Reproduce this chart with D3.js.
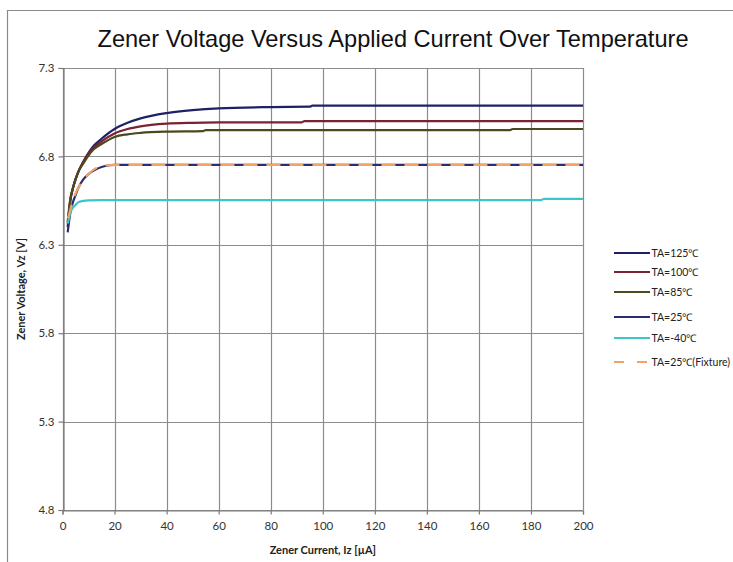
<!DOCTYPE html>
<html>
<head>
<meta charset="utf-8">
<script src="https://cdn.jsdelivr.net/npm/d3@7"></script>
<style>
  html, body { margin: 0; padding: 0; background: #fff; }
  svg { display: block; }
</style>
</head>
<body>
<svg id="chart" width="733" height="562"></svg>
<script>
// Zener voltage (V) vs. applied current (µA) at several ambient temperatures
const seriesNames = ["TA=125℃", "TA=100℃", "TA=85℃", "TA=25℃", "TA=-40℃", "TA=25℃(Fixture)"];

const current125 = [2, 2.5, 3, 4, 5, 6, 8, 10, 12, 15, 20, 25, 30, 40, 50, 60, 80, 95, 96, 200];
const volts125   = [6.40, 6.48, 6.55, 6.62, 6.67, 6.71, 6.77, 6.82, 6.86, 6.90, 6.955, 6.99, 7.015, 7.045, 7.062, 7.072, 7.079, 7.081, 7.087, 7.087];

const current100 = [2, 2.5, 3, 4, 5, 6, 8, 10, 12, 15, 20, 25, 30, 40, 50, 60, 80, 92, 93, 200];
const volts100   = [6.42, 6.49, 6.55, 6.62, 6.67, 6.71, 6.77, 6.815, 6.85, 6.885, 6.93, 6.955, 6.97, 6.985, 6.99, 6.992, 6.993, 6.993, 7.0, 7.0];

const current85  = [2, 2.5, 3, 4, 5, 6, 8, 10, 12, 15, 20, 25, 30, 40, 54, 55, 172, 173, 200];
const volts85    = [6.43, 6.50, 6.56, 6.62, 6.67, 6.71, 6.76, 6.805, 6.84, 6.87, 6.91, 6.925, 6.933, 6.94, 6.943, 6.949, 6.949, 6.955, 6.955];

const current25  = [2, 2.5, 3, 4, 5, 6, 8, 10, 12, 15, 18, 20, 200];
const volts25    = [6.37, 6.43, 6.48, 6.54, 6.58, 6.62, 6.67, 6.70, 6.72, 6.74, 6.75, 6.752, 6.752];

const currentM40 = [2, 2.5, 3, 4, 5, 6, 8, 10, 15, 184, 185, 200];
const voltsM40   = [6.42, 6.45, 6.48, 6.51, 6.525, 6.54, 6.548, 6.551, 6.553, 6.553, 6.56, 6.56];

const currentFix = [2, 2.5, 3, 4, 5, 6, 8, 10, 12, 15, 20, 200];
const voltsFix   = [6.45, 6.47, 6.50, 6.55, 6.59, 6.62, 6.67, 6.70, 6.725, 6.745, 6.752, 6.752];

const xTicks = [0, 20, 40, 60, 80, 100, 120, 140, 160, 180, 200];
const yTicks = [4.8, 5.3, 5.8, 6.3, 6.8, 7.3];

const seriesCurrents = [current125, current100, current85, current25, currentM40, currentFix];
const seriesVolts    = [volts125, volts100, volts85, volts25, voltsM40, voltsFix];
const seriesColors   = ["#1f2066", "#7a2232", "#4a4a1e", "#2a2d70", "#3cc6c6", "#f2a466"];
const seriesDash     = [null, null, null, null, null, "14,9"];

const svg = d3.select("#chart");
const plot = { left: 62.5, right: 583, top: 68, bottom: 510 };

const x = d3.scaleLinear().domain([0, 200]).range([plot.left, plot.right]);
const y = d3.scaleLinear().domain([4.8, 7.3]).range([plot.bottom, plot.top]);

// outer chart frame
svg.append("path")
  .attr("d", "M7.5,562 V10.5 H733")
  .attr("fill", "none").attr("stroke", "#8a8a8a").attr("stroke-width", 1.2);

// title
svg.append("text")
  .attr("x", 393).attr("y", 47)
  .attr("text-anchor", "middle")
  .attr("font-family", "Liberation Sans, Arial, sans-serif")
  .attr("font-size", 23.6)
  .attr("fill", "#111")
  .text("Zener Voltage Versus Applied Current Over Temperature");

// grid
const grid = svg.append("g");
grid.selectAll("line.v").data(xTicks).join("line")
  .attr("x1", d => Math.round(x(d)) + 0.5).attr("x2", d => Math.round(x(d)) + 0.5)
  .attr("y1", plot.top).attr("y2", plot.bottom)
  .attr("stroke", "#8c8c8c").attr("stroke-width", 1.2);
grid.selectAll("line.h").data(yTicks).join("line")
  .attr("y1", d => Math.round(y(d)) + 0.5).attr("y2", d => Math.round(y(d)) + 0.5)
  .attr("x1", plot.left).attr("x2", plot.right)
  .attr("stroke", "#8c8c8c").attr("stroke-width", 1.2);

// axes
const tickFont = "Lato, 'Open Sans', sans-serif";
const xAxis = svg.append("g")
  .attr("transform", `translate(0,${Math.round(plot.bottom) + 0.5})`)
  .call(d3.axisBottom(x).tickValues(xTicks).tickSize(4).tickPadding(7).tickFormat(d3.format("d")));
const yAxis = svg.append("g")
  .attr("transform", `translate(${Math.round(plot.left) + 0.5},0)`)
  .call(d3.axisLeft(y).tickValues(yTicks).tickSize(5).tickPadding(4).tickFormat(d3.format(".1f")));
[xAxis, yAxis].forEach(g => {
  g.select(".domain").attr("stroke", "#7a7a7a").attr("stroke-width", 1.2);
  g.selectAll(".tick line").attr("stroke", "#7a7a7a").attr("stroke-width", 1.2);
  g.selectAll(".tick text").attr("font-family", tickFont).attr("font-size", 11.5).attr("fill", "#333");
});

// axis titles
svg.append("text")
  .attr("x", (plot.left + plot.right) / 2).attr("y", 554)
  .attr("text-anchor", "middle")
  .attr("font-family", tickFont).attr("font-weight", "bold").attr("font-size", 11)
  .attr("fill", "#222")
  .text("Zener Current, Iz [µA]");
svg.append("text")
  .attr("transform", `translate(25,${(plot.top + plot.bottom) / 2}) rotate(-90)`)
  .attr("text-anchor", "middle")
  .attr("font-family", tickFont).attr("font-weight", "bold").attr("font-size", 11)
  .attr("fill", "#222")
  .text("Zener Voltage, Vz [V]");

// series lines
const line = d3.line().x(d => x(d[0])).y(d => y(d[1])).curve(d3.curveMonotoneX);
seriesNames.forEach((name, i) => {
  const pts = seriesCurrents[i].map((c, k) => [c, seriesVolts[i][k]]);
  svg.append("path")
    .datum(pts)
    .attr("d", line)
    .attr("fill", "none")
    .attr("stroke", seriesColors[i])
    .attr("stroke-width", 2.2)
    .attr("stroke-dasharray", seriesDash[i]);
});

// legend
const legendRows = [253, 272, 292, 317, 338, 362];
const legend = svg.append("g");
seriesNames.forEach((name, i) => {
  legend.append("line")
    .attr("x1", 614).attr("x2", 650)
    .attr("y1", legendRows[i]).attr("y2", legendRows[i])
    .attr("stroke", seriesColors[i]).attr("stroke-width", 2)
    .attr("stroke-dasharray", seriesDash[i] ? "10,13" : null);
  legend.append("text")
    .attr("x", 651.5).attr("y", legendRows[i] + 4)
    .attr("font-family", tickFont).attr("font-size", 10.5)
    .attr("fill", "#222")
    .text(name);
});
</script>
</body>
</html>
